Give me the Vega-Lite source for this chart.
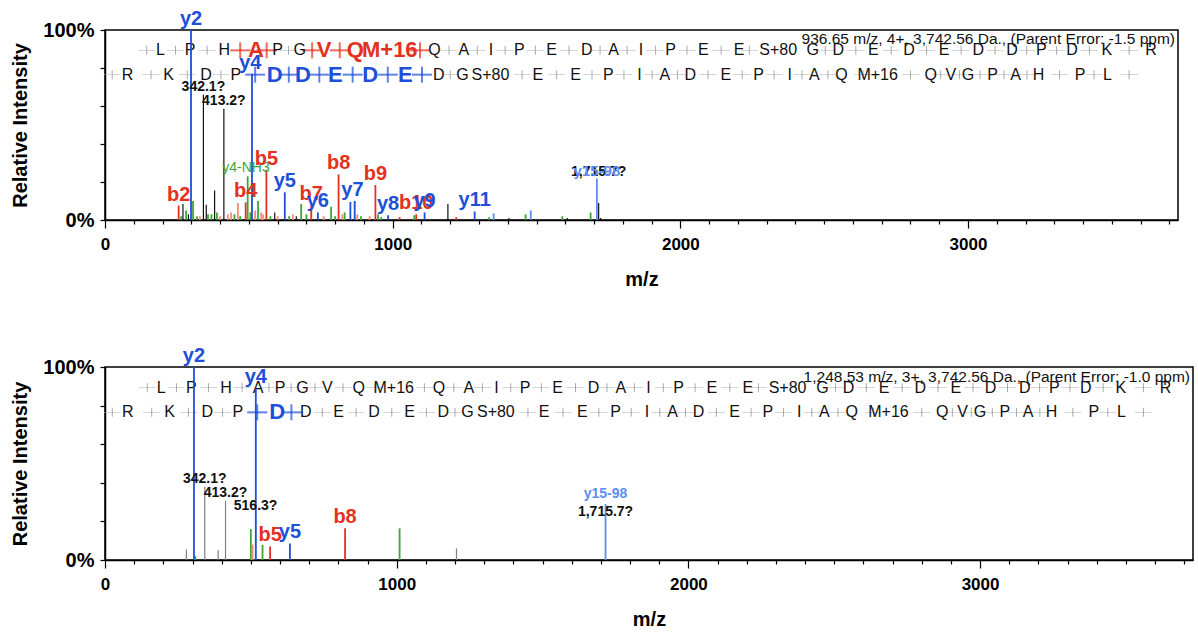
{
"$schema":"https://vega.github.io/schema/vega-lite/v6.json",
"padding":{"left":10,"top":8,"right":0,"bottom":0},
"spacing":55,
"config":{
 "font":"Liberation Sans",
 "view":{"stroke":"black","strokeWidth":1.5},
 "legend":{"disable":true},
 "axisX":{"values":[0,200,400,600,800,1000,1200,1400,1600,1800,2000,2200,2400,2600,2800,3000,3200,3400,3600],"labelExpr":"datum.value % 1000 == 0 ? datum.value : ''","labelOverlap":false,"tickSize":{"condition":{"test":"datum.value % 1000 == 0","value":8},"value":4},"labelFontSize":17,"labelFontWeight":"bold","labelPadding":8,"labelColor":"black","titleFontSize":20,"titleFontWeight":"bold","titlePadding":17,"titleColor":"black","grid":false,"domainColor":"black","domainWidth":1.5,"tickColor":"black","tickWidth":1.2,"labelFlush":false},
 "axisY":{"values":[0,20,40,60,80,100],"labelExpr":"datum.value == 100 ? '100%' : datum.value == 0 ? '0%' : ''","labelOverlap":false,"tickSize":5,"labelFontSize":20,"labelFontWeight":"bold","labelPadding":6,"labelColor":"black","titleFontSize":20,"titleFontWeight":"bold","titlePadding":12,"titleColor":"black","grid":false,"domainColor":"black","domainWidth":1.5,"tickColor":"black","tickWidth":1.2,"labelFlush":false}
},
"datasets":{
"peaks":[
{"p":1,"mz":256,"int":7.6,"k":"b"},{"p":1,"mz":265,"int":2,"k":"g"},{"p":1,"mz":271,"int":8.4,"k":"k"},{"p":1,"mz":282,"int":5,"k":"g"},{"p":1,"mz":290,"int":3,"k":"k"},{"p":1,"mz":306,"int":10,"k":"g"},{"p":1,"mz":320,"int":2,"k":"g"},{"p":1,"mz":330,"int":2,"k":"bl"},{"p":1,"mz":342.1,"int":66,"k":"k"},{"p":1,"mz":352,"int":8,"k":"k"},{"p":1,"mz":358,"int":3,"k":"g"},{"p":1,"mz":370,"int":3,"k":"g"},{"p":1,"mz":381,"int":15.5,"k":"k"},{"p":1,"mz":389,"int":4,"k":"g"},{"p":1,"mz":400,"int":2,"k":"bl"},{"p":1,"mz":413.2,"int":58.5,"k":"k"},{"p":1,"mz":427,"int":3,"k":"bl"},{"p":1,"mz":438,"int":4,"k":"bl"},{"p":1,"mz":450,"int":3,"k":"g"},{"p":1,"mz":462,"int":9,"k":"bl"},{"p":1,"mz":470,"int":2,"k":"g"},{"p":1,"mz":489,"int":9.3,"k":"b"},{"p":1,"mz":496,"int":23,"k":"g"},{"p":1,"mz":505,"int":4,"k":"g"},{"p":1,"mz":522,"int":5,"k":"bl"},{"p":1,"mz":532,"int":10,"k":"g"},{"p":1,"mz":543,"int":4,"k":"bl"},{"p":1,"mz":550,"int":3,"k":"bl"},{"p":1,"mz":561,"int":26.5,"k":"b"},{"p":1,"mz":575,"int":2,"k":"g"},{"p":1,"mz":590,"int":4,"k":"k"},{"p":1,"mz":600,"int":2,"k":"bl"},{"p":1,"mz":625,"int":14.6,"k":"y"},{"p":1,"mz":640,"int":2,"k":"g"},{"p":1,"mz":653,"int":3,"k":"bl"},{"p":1,"mz":665,"int":2,"k":"k"},{"p":1,"mz":682,"int":8.5,"k":"g"},{"p":1,"mz":700,"int":3,"k":"g"},{"p":1,"mz":717,"int":8,"k":"b"},{"p":1,"mz":740,"int":4,"k":"y"},{"p":1,"mz":760,"int":2,"k":"bl"},{"p":1,"mz":786,"int":7,"k":"g"},{"p":1,"mz":800,"int":2,"k":"g"},{"p":1,"mz":812,"int":24,"k":"b"},{"p":1,"mz":825,"int":3,"k":"bl"},{"p":1,"mz":833,"int":4,"k":"g"},{"p":1,"mz":853,"int":9.5,"k":"y"},{"p":1,"mz":868,"int":10,"k":"y"},{"p":1,"mz":877,"int":3,"k":"bl"},{"p":1,"mz":890,"int":2,"k":"g"},{"p":1,"mz":920,"int":2,"k":"bl"},{"p":1,"mz":940,"int":18.4,"k":"b"},{"p":1,"mz":949,"int":3,"k":"g"},{"p":1,"mz":960,"int":1.5,"k":"g"},{"p":1,"mz":984,"int":2.5,"k":"y"},{"p":1,"mz":1024,"int":1.5,"k":"b"},{"p":1,"mz":1075,"int":2.5,"k":"g"},{"p":1,"mz":1082,"int":3,"k":"b"},{"p":1,"mz":1111,"int":4,"k":"y"},{"p":1,"mz":1192,"int":8.4,"k":"k"},{"p":1,"mz":1221,"int":1.5,"k":"b"},{"p":1,"mz":1285,"int":4.5,"k":"y"},{"p":1,"mz":1335,"int":1.5,"k":"g"},{"p":1,"mz":1351,"int":3.5,"k":"yl"},{"p":1,"mz":1404,"int":1,"k":"k"},{"p":1,"mz":1462,"int":3,"k":"g"},{"p":1,"mz":1480,"int":5,"k":"yl"},{"p":1,"mz":1590,"int":2,"k":"g"},{"p":1,"mz":1607,"int":1,"k":"k"},{"p":1,"mz":1688,"int":4,"k":"g"},{"p":1,"mz":1710,"int":21.7,"k":"yl"},{"p":1,"mz":1716,"int":9,"k":"k"},{"p":1,"mz":1723,"int":1,"k":"k"},
{"p":1,"mz":299,"int":100,"k":"y"},{"p":1,"mz":511,"int":77,"k":"y"},
{"p":2,"mz":279,"int":5.5,"k":"gr"},{"p":2,"mz":310,"int":2,"k":"g"},{"p":2,"mz":342.1,"int":38,"k":"gr"},{"p":2,"mz":388,"int":5,"k":"gr"},{"p":2,"mz":413.2,"int":30.6,"k":"gr"},{"p":2,"mz":500,"int":16,"k":"g"},{"p":2,"mz":506,"int":8,"k":"bl"},{"p":2,"mz":516.3,"int":24,"k":"gr"},{"p":2,"mz":540,"int":7.8,"k":"g"},{"p":2,"mz":566,"int":7,"k":"b"},{"p":2,"mz":634,"int":8.6,"k":"y"},{"p":2,"mz":823,"int":16.4,"k":"b"},{"p":2,"mz":1010,"int":16.4,"k":"g"},{"p":2,"mz":1205,"int":6,"k":"gr"},{"p":2,"mz":1716,"int":29,"k":"yl"},{"p":2,"mz":305,"int":100,"k":"y"},{"p":2,"mz":517,"int":89,"k":"y"}
],
"labels":[
{"p":1,"mz":342.1,"int":66,"t":"342.1?","k":"k"},{"p":1,"mz":413.2,"int":58.5,"t":"413.2?","k":"k"},{"p":1,"mz":490,"int":23,"t":"y4-NH3","k":"g"},
{"p":1,"mz":299,"int":100,"t":"y2","k":"y"},{"p":1,"mz":505,"int":77,"t":"y4","k":"y"},{"p":1,"mz":256,"int":7.6,"t":"b2","k":"b"},{"p":1,"mz":489,"int":9.3,"t":"b4","k":"b"},{"p":1,"mz":561,"int":26.5,"t":"b5","k":"b"},{"p":1,"mz":625,"int":14.6,"t":"y5","k":"y"},{"p":1,"mz":717,"int":8,"t":"b7","k":"b"},{"p":1,"mz":740,"int":4,"t":"y6","k":"y"},{"p":1,"mz":812,"int":24,"t":"b8","k":"b"},{"p":1,"mz":860,"int":10,"t":"y7","k":"y"},{"p":1,"mz":940,"int":18.4,"t":"b9","k":"b"},{"p":1,"mz":984,"int":2.5,"t":"y8","k":"y"},{"p":1,"mz":1082,"int":3,"t":"b10","k":"b"},{"p":1,"mz":1111,"int":4,"t":"y9","k":"y"},{"p":1,"mz":1285,"int":4.5,"t":"y11","k":"y"},
{"p":1,"mz":1716,"int":21,"t":"1,715.7?","k":"k"},{"p":1,"mz":1710,"int":21,"t":"y15-98","k":"yl"},
{"p":2,"mz":305,"int":100,"t":"y2","k":"y"},{"p":2,"mz":517,"int":89,"t":"y4","k":"y"},{"p":2,"mz":342.1,"int":38,"t":"342.1?","k":"k"},{"p":2,"mz":413.2,"int":30.6,"t":"413.2?","k":"k"},{"p":2,"mz":516.3,"int":24,"t":"516.3?","k":"k"},{"p":2,"mz":566,"int":7,"t":"b5","k":"b"},{"p":2,"mz":634,"int":8.6,"t":"y5","k":"y"},{"p":2,"mz":823,"int":16.4,"t":"b8","k":"b"},{"p":2,"mz":1716,"int":30,"t":"y15-98","k":"yl"},{"p":2,"mz":1716,"int":20.5,"t":"1,715.7?","k":"k"}
],
"hdr":[
{"p":1,"mz":3730,"int":95.5,"t":"936.65 m/z, 4+, 3,742.56 Da., (Parent Error: -1.5 ppm)"},
{"p":2,"mz":3730,"int":94.7,"t":"1,248.53 m/z, 3+, 3,742.56 Da., (Parent Error: -1.0 ppm)"}
],
"seq":[
{"mz":193,"int":89.3,"t":"L","h1":"n","h2":"n"},{"mz":296,"int":89.3,"t":"P","h1":"n","h2":"n"},{"mz":415,"int":89.3,"t":"H","h1":"n","h2":"n"},{"mz":525,"int":89.3,"t":"A","h1":"b","h2":"n"},{"mz":600,"int":89.3,"t":"P","h1":"n","h2":"n"},{"mz":677,"int":89.3,"t":"G","h1":"n","h2":"n"},{"mz":762,"int":89.3,"t":"V","h1":"b","h2":"n"},{"mz":870,"int":89.3,"t":"Q","h1":"b","h2":"n"},{"mz":990,"int":89.3,"t":"M+16","h1":"b","h2":"n"},{"mz":1145,"int":89.3,"t":"Q","h1":"n","h2":"n"},{"mz":1247,"int":89.3,"t":"A","h1":"n","h2":"n"},{"mz":1342,"int":89.3,"t":"I","h1":"n","h2":"n"},{"mz":1440,"int":89.3,"t":"P","h1":"n","h2":"n"},{"mz":1552,"int":89.3,"t":"E","h1":"n","h2":"n"},{"mz":1675,"int":89.3,"t":"D","h1":"n","h2":"n"},{"mz":1768,"int":89.3,"t":"A","h1":"n","h2":"n"},{"mz":1863,"int":89.3,"t":"I","h1":"n","h2":"n"},{"mz":1966,"int":89.3,"t":"P","h1":"n","h2":"n"},{"mz":2080,"int":89.3,"t":"E","h1":"n","h2":"n"},{"mz":2204,"int":89.3,"t":"E","h1":"n","h2":"n"},{"mz":2340,"int":89.3,"t":"S+80","h1":"n","h2":"n"},{"mz":2460,"int":89.3,"t":"G","h1":"n","h2":"n"},{"mz":2549,"int":89.3,"t":"D","h1":"n","h2":"n"},{"mz":2671,"int":89.3,"t":"E","h1":"n","h2":"n"},{"mz":2795,"int":89.3,"t":"D","h1":"n","h2":"n"},{"mz":2917,"int":89.3,"t":"E","h1":"n","h2":"n"},{"mz":3036,"int":89.3,"t":"D","h1":"n","h2":"n"},{"mz":3153,"int":89.3,"t":"D","h1":"n","h2":"n"},{"mz":3255,"int":89.3,"t":"P","h1":"n","h2":"n"},{"mz":3362,"int":89.3,"t":"D","h1":"n","h2":"n"},{"mz":3483,"int":89.3,"t":"K","h1":"n","h2":"n"},{"mz":3636,"int":89.3,"t":"R","h1":"n","h2":"n"},
{"mz":78,"int":76.5,"t":"R","h1":"n","h2":"n"},{"mz":221,"int":76.5,"t":"K","h1":"n","h2":"n"},{"mz":351,"int":76.5,"t":"D","h1":"n","h2":"n"},{"mz":455,"int":76.5,"t":"P","h1":"n","h2":"n"},{"mz":590,"int":76.5,"t":"D","h1":"y","h2":"y"},{"mz":688,"int":76.5,"t":"D","h1":"y","h2":"n"},{"mz":801,"int":76.5,"t":"E","h1":"y","h2":"n"},{"mz":922,"int":76.5,"t":"D","h1":"y","h2":"n"},{"mz":1044,"int":76.5,"t":"E","h1":"y","h2":"n"},{"mz":1160,"int":76.5,"t":"D","h1":"n","h2":"n"},{"mz":1243,"int":76.5,"t":"G","h1":"n","h2":"n"},{"mz":1340,"int":76.5,"t":"S+80","h1":"n","h2":"n"},{"mz":1505,"int":76.5,"t":"E","h1":"n","h2":"n"},{"mz":1636,"int":76.5,"t":"E","h1":"n","h2":"n"},{"mz":1750,"int":76.5,"t":"P","h1":"n","h2":"n"},{"mz":1858,"int":76.5,"t":"I","h1":"n","h2":"n"},{"mz":1946,"int":76.5,"t":"A","h1":"n","h2":"n"},{"mz":2035,"int":76.5,"t":"D","h1":"n","h2":"n"},{"mz":2158,"int":76.5,"t":"E","h1":"n","h2":"n"},{"mz":2272,"int":76.5,"t":"P","h1":"n","h2":"n"},{"mz":2380,"int":76.5,"t":"I","h1":"n","h2":"n"},{"mz":2466,"int":76.5,"t":"A","h1":"n","h2":"n"},{"mz":2560,"int":76.5,"t":"Q","h1":"n","h2":"n"},{"mz":2686,"int":76.5,"t":"M+16","h1":"n","h2":"n"},{"mz":2870,"int":76.5,"t":"Q","h1":"n","h2":"n"},{"mz":2940,"int":76.5,"t":"V","h1":"n","h2":"n"},{"mz":3000,"int":76.5,"t":"G","h1":"n","h2":"n"},{"mz":3085,"int":76.5,"t":"P","h1":"n","h2":"n"},{"mz":3165,"int":76.5,"t":"A","h1":"n","h2":"n"},{"mz":3245,"int":76.5,"t":"H","h1":"n","h2":"n"},{"mz":3390,"int":76.5,"t":"P","h1":"n","h2":"n"},{"mz":3485,"int":76.5,"t":"L","h1":"n","h2":"n"}
],
"sep":[
{"mz":145,"int":89.3,"h1":"n","h2":"n"},{"mz":245,"int":89.3,"h1":"n","h2":"n"},{"mz":355,"int":89.3,"h1":"n","h2":"n"},{"mz":470,"int":89.3,"h1":"b","h2":"n"},{"mz":562,"int":89.3,"h1":"b","h2":"n"},{"mz":638,"int":89.3,"h1":"n","h2":"n"},{"mz":720,"int":89.3,"h1":"b","h2":"n"},{"mz":816,"int":89.3,"h1":"b","h2":"n"},{"mz":925,"int":89.3,"h1":"x","h2":"n"},{"mz":1095,"int":89.3,"h1":"b","h2":"n"},{"mz":1196,"int":89.3,"h1":"n","h2":"n"},{"mz":1294,"int":89.3,"h1":"n","h2":"n"},{"mz":1391,"int":89.3,"h1":"n","h2":"n"},{"mz":1496,"int":89.3,"h1":"n","h2":"n"},{"mz":1613,"int":89.3,"h1":"n","h2":"n"},{"mz":1721,"int":89.3,"h1":"n","h2":"n"},{"mz":1815,"int":89.3,"h1":"n","h2":"n"},{"mz":1914,"int":89.3,"h1":"n","h2":"n"},{"mz":2023,"int":89.3,"h1":"n","h2":"n"},{"mz":2142,"int":89.3,"h1":"n","h2":"n"},{"mz":2240,"int":89.3,"h1":"n","h2":"n"},{"mz":2504,"int":89.3,"h1":"n","h2":"n"},{"mz":2610,"int":89.3,"h1":"n","h2":"n"},{"mz":2733,"int":89.3,"h1":"n","h2":"n"},{"mz":2856,"int":89.3,"h1":"n","h2":"n"},{"mz":2976,"int":89.3,"h1":"n","h2":"n"},{"mz":3094,"int":89.3,"h1":"n","h2":"n"},{"mz":3204,"int":89.3,"h1":"n","h2":"n"},{"mz":3308,"int":89.3,"h1":"n","h2":"n"},{"mz":3422,"int":89.3,"h1":"n","h2":"n"},{"mz":3560,"int":89.3,"h1":"n","h2":"n"},
{"mz":25,"int":76.5,"h1":"n","h2":"n"},{"mz":160,"int":76.5,"h1":"n","h2":"n"},{"mz":286,"int":76.5,"h1":"n","h2":"n"},{"mz":403,"int":76.5,"h1":"n","h2":"n"},{"mz":522,"int":76.5,"h1":"y","h2":"y"},{"mz":639,"int":76.5,"h1":"y","h2":"y"},{"mz":745,"int":76.5,"h1":"y","h2":"n"},{"mz":861,"int":76.5,"h1":"y","h2":"n"},{"mz":983,"int":76.5,"h1":"y","h2":"n"},{"mz":1102,"int":76.5,"h1":"y","h2":"n"},{"mz":1200,"int":76.5,"h1":"n","h2":"n"},{"mz":1450,"int":76.5,"h1":"n","h2":"n"},{"mz":1570,"int":76.5,"h1":"n","h2":"n"},{"mz":1693,"int":76.5,"h1":"n","h2":"n"},{"mz":1804,"int":76.5,"h1":"n","h2":"n"},{"mz":1902,"int":76.5,"h1":"n","h2":"n"},{"mz":1990,"int":76.5,"h1":"n","h2":"n"},{"mz":2096,"int":76.5,"h1":"n","h2":"n"},{"mz":2215,"int":76.5,"h1":"n","h2":"n"},{"mz":2326,"int":76.5,"h1":"n","h2":"n"},{"mz":2423,"int":76.5,"h1":"n","h2":"n"},{"mz":2513,"int":76.5,"h1":"n","h2":"n"},{"mz":2635,"int":76.5,"h1":"n","h2":"n"},{"mz":2800,"int":76.5,"h1":"n","h2":"n"},{"mz":2905,"int":76.5,"h1":"n","h2":"n"},{"mz":2970,"int":76.5,"h1":"n","h2":"n"},{"mz":3042,"int":76.5,"h1":"n","h2":"n"},{"mz":3125,"int":76.5,"h1":"n","h2":"n"},{"mz":3205,"int":76.5,"h1":"n","h2":"n"},{"mz":3318,"int":76.5,"h1":"n","h2":"n"},{"mz":3438,"int":76.5,"h1":"n","h2":"n"},{"mz":3560,"int":76.5,"h1":"n","h2":"n"}
]
},
"vconcat":[
{"width":1073,"height":190,"layer":[
 {"data":{"name":"sep"},"transform":[{"filter":"datum.h1 == 'n'"}],"mark":{"type":"tick","orient":"horizontal","size":17,"thickness":0.8,"color":"#b0b0b0"},"encoding":{"x":{"field":"mz","type":"quantitative","scale":{"domain":[0,3730],"nice":false,"zero":false},"title":"m/z"},"y":{"field":"int","type":"quantitative","scale":{"domain":[0,100],"nice":false},"title":"Relative Intensity"}}},
 {"data":{"name":"sep"},"transform":[{"filter":"datum.h1 == 'n'"}],"mark":{"type":"tick","orient":"vertical","size":9,"thickness":1,"color":"#888888"},"encoding":{"x":{"field":"mz","type":"quantitative"},"y":{"field":"int","type":"quantitative"}}},
 {"data":{"name":"sep"},"transform":[{"filter":"datum.h1 == 'b' || datum.h1 == 'y'"}],"mark":{"type":"tick","orient":"horizontal","size":20,"thickness":2},"encoding":{"x":{"field":"mz","type":"quantitative"},"y":{"field":"int","type":"quantitative"},"color":{"field":"h1","type":"nominal","scale":{"domain":["y","b","g","yl","bl","k","gr"],"range":["#1d4fd8","#e3311d","#3fa535","#5d8ef2","#f38b7b","#111111","#808080"]}}}},
 {"data":{"name":"sep"},"transform":[{"filter":"datum.h1 == 'b' || datum.h1 == 'y'"}],"mark":{"type":"tick","orient":"vertical","size":16,"thickness":2},"encoding":{"x":{"field":"mz","type":"quantitative"},"y":{"field":"int","type":"quantitative"},"color":{"field":"h1","type":"nominal"}}},
 {"data":{"name":"seq"},"transform":[{"filter":"datum.h1 == 'n'"}],"mark":{"type":"text","fontSize":16,"baseline":"middle","color":"#111111"},"encoding":{"x":{"field":"mz","type":"quantitative"},"y":{"field":"int","type":"quantitative"},"text":{"field":"t"}}},
 {"data":{"name":"seq"},"transform":[{"filter":"datum.h1 != 'n'"}],"mark":{"type":"text","fontSize":22,"fontWeight":"bold","baseline":"middle"},"encoding":{"x":{"field":"mz","type":"quantitative"},"y":{"field":"int","type":"quantitative"},"text":{"field":"t"},"color":{"field":"h1","type":"nominal"}}},
 {"data":{"name":"hdr"},"transform":[{"filter":"datum.p == 1"}],"mark":{"type":"text","fontSize":15.5,"align":"right","baseline":"middle","dx":-3,"color":"#111111"},"encoding":{"x":{"field":"mz","type":"quantitative"},"y":{"field":"int","type":"quantitative"},"text":{"field":"t"}}},
 {"data":{"name":"peaks"},"transform":[{"filter":"datum.p == 1"}],"mark":{"type":"rule"},"encoding":{"x":{"field":"mz","type":"quantitative"},"y":{"field":"int","type":"quantitative"},"y2":{"datum":0},"color":{"field":"k","type":"nominal"},"strokeWidth":{"condition":{"test":"datum.k == 'k' || datum.k == 'gr'","value":1.2},"value":1.8}}},
 {"data":{"name":"labels"},"transform":[{"filter":"datum.p == 1 && datum.k == 'k'"}],"mark":{"type":"text","fontSize":14,"fontWeight":"bold","baseline":"bottom","dy":-1},"encoding":{"x":{"field":"mz","type":"quantitative"},"y":{"field":"int","type":"quantitative"},"text":{"field":"t"},"color":{"field":"k","type":"nominal"}}},
 {"data":{"name":"labels"},"transform":[{"filter":"datum.p == 1 && datum.k == 'g'"}],"mark":{"type":"text","fontSize":14,"baseline":"bottom","dy":-1},"encoding":{"x":{"field":"mz","type":"quantitative"},"y":{"field":"int","type":"quantitative"},"text":{"field":"t"},"color":{"field":"k","type":"nominal"}}},
 {"data":{"name":"labels"},"transform":[{"filter":"datum.p == 1 && datum.k == 'yl'"}],"mark":{"type":"text","fontSize":15,"fontWeight":"bold","baseline":"bottom","dy":-1},"encoding":{"x":{"field":"mz","type":"quantitative"},"y":{"field":"int","type":"quantitative"},"text":{"field":"t"},"color":{"field":"k","type":"nominal"}}},
 {"data":{"name":"labels"},"transform":[{"filter":"datum.p == 1 && (datum.k == 'y' || datum.k == 'b')"}],"mark":{"type":"text","fontSize":20,"fontWeight":"bold","baseline":"bottom","dy":-1},"encoding":{"x":{"field":"mz","type":"quantitative"},"y":{"field":"int","type":"quantitative"},"text":{"field":"t"},"color":{"field":"k","type":"nominal"}}}
]},
{"width":1088,"height":193,"layer":[
 {"data":{"name":"sep"},"transform":[{"filter":"datum.h2 == 'n'"}],"mark":{"type":"tick","orient":"horizontal","size":17,"thickness":0.8,"color":"#b0b0b0"},"encoding":{"x":{"field":"mz","type":"quantitative","scale":{"domain":[0,3730],"nice":false,"zero":false},"title":"m/z"},"y":{"field":"int","type":"quantitative","scale":{"domain":[0,100],"nice":false},"title":"Relative Intensity"}}},
 {"data":{"name":"sep"},"transform":[{"filter":"datum.h2 == 'n'"}],"mark":{"type":"tick","orient":"vertical","size":9,"thickness":1,"color":"#888888"},"encoding":{"x":{"field":"mz","type":"quantitative"},"y":{"field":"int","type":"quantitative"}}},
 {"data":{"name":"sep"},"transform":[{"filter":"datum.h2 == 'b' || datum.h2 == 'y'"}],"mark":{"type":"tick","orient":"horizontal","size":20,"thickness":2},"encoding":{"x":{"field":"mz","type":"quantitative"},"y":{"field":"int","type":"quantitative"},"color":{"field":"h2","type":"nominal","scale":{"domain":["y","b","g","yl","bl","k","gr"],"range":["#1d4fd8","#e3311d","#3fa535","#5d8ef2","#f38b7b","#111111","#808080"]}}}},
 {"data":{"name":"sep"},"transform":[{"filter":"datum.h2 == 'b' || datum.h2 == 'y'"}],"mark":{"type":"tick","orient":"vertical","size":16,"thickness":2},"encoding":{"x":{"field":"mz","type":"quantitative"},"y":{"field":"int","type":"quantitative"},"color":{"field":"h2","type":"nominal"}}},
 {"data":{"name":"seq"},"transform":[{"filter":"datum.h2 == 'n'"}],"mark":{"type":"text","fontSize":16,"baseline":"middle","color":"#111111"},"encoding":{"x":{"field":"mz","type":"quantitative"},"y":{"field":"int","type":"quantitative"},"text":{"field":"t"}}},
 {"data":{"name":"seq"},"transform":[{"filter":"datum.h2 != 'n'"}],"mark":{"type":"text","fontSize":22,"fontWeight":"bold","baseline":"middle"},"encoding":{"x":{"field":"mz","type":"quantitative"},"y":{"field":"int","type":"quantitative"},"text":{"field":"t"},"color":{"field":"h2","type":"nominal"}}},
 {"data":{"name":"hdr"},"transform":[{"filter":"datum.p == 2"}],"mark":{"type":"text","fontSize":15.5,"align":"right","baseline":"middle","dx":-3,"color":"#111111"},"encoding":{"x":{"field":"mz","type":"quantitative"},"y":{"field":"int","type":"quantitative"},"text":{"field":"t"}}},
 {"data":{"name":"peaks"},"transform":[{"filter":"datum.p == 2"}],"mark":{"type":"rule"},"encoding":{"x":{"field":"mz","type":"quantitative"},"y":{"field":"int","type":"quantitative"},"y2":{"datum":0},"color":{"field":"k","type":"nominal"},"strokeWidth":{"condition":{"test":"datum.k == 'k' || datum.k == 'gr'","value":1.2},"value":1.8}}},
 {"data":{"name":"labels"},"transform":[{"filter":"datum.p == 2 && datum.k == 'k'"}],"mark":{"type":"text","fontSize":14,"fontWeight":"bold","baseline":"bottom","dy":-1},"encoding":{"x":{"field":"mz","type":"quantitative"},"y":{"field":"int","type":"quantitative"},"text":{"field":"t"},"color":{"field":"k","type":"nominal"}}},
 {"data":{"name":"labels"},"transform":[{"filter":"datum.p == 2 && datum.k == 'yl'"}],"mark":{"type":"text","fontSize":14,"fontWeight":"bold","baseline":"bottom","dy":-1},"encoding":{"x":{"field":"mz","type":"quantitative"},"y":{"field":"int","type":"quantitative"},"text":{"field":"t"},"color":{"field":"k","type":"nominal"}}},
 {"data":{"name":"labels"},"transform":[{"filter":"datum.p == 2 && (datum.k == 'y' || datum.k == 'b')"}],"mark":{"type":"text","fontSize":20,"fontWeight":"bold","baseline":"bottom","dy":-1},"encoding":{"x":{"field":"mz","type":"quantitative"},"y":{"field":"int","type":"quantitative"},"text":{"field":"t"},"color":{"field":"k","type":"nominal"}}}
]}
]
}
